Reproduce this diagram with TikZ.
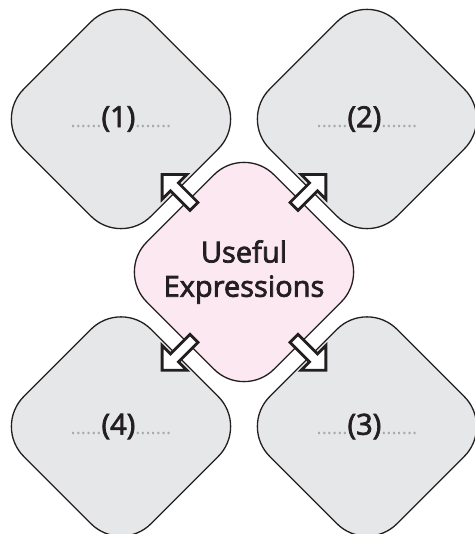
\documentclass[tikz,border=0pt]{standalone}
\usepackage{fontspec}
\setmainfont{Open Sans}
\newfontfamily\labelfont{Open Sans}[FakeBold=2.5]
\usepackage{tikz}
\usetikzlibrary{shapes.geometric,shapes.arrows}
\usetikzlibrary{calc,positioning}
\definecolor{boxgray}{HTML}{E6E7E8}
\definecolor{boxpink}{HTML}{FCE8F0}
\definecolor{inkcol}{HTML}{231F20}
\definecolor{dotgray}{HTML}{A7A9AC}
\newcommand{\blankdots}[1]{{\normalfont\fontsize{11}{11}\selectfont\color{dotgray}#1}}

\begin{document}
\begin{tikzpicture}[
		topicbox/.style={diamond, aspect=1, draw=inkcol, line width=0.75pt, rounded corners=0.85cm, minimum size=5.1cm, inner sep=0pt, align=center, text=inkcol, font=\labelfont\fontsize{16.5}{19.5}\selectfont},
		blockarrow/.style={single arrow, draw=inkcol, fill=white, line width=1.6pt, single arrow tip angle=90, single arrow head extend=0.06cm, minimum height=0.9cm, minimum width=0.7cm, inner sep=0pt}
	]
		\useasboundingbox (-4.88,-5.24) rectangle (4.62,5.44);
		\node[topicbox, fill=boxpink] (useful) at (0,0) {Useful\\Expressions};
		\foreach \n/\x/\y/\a in {1/-2.46/3.06/135, 2/2.46/3.06/45, 3/2.46/-3.09/-45, 4/-2.46/-3.09/-135}{
			\node[topicbox, fill=boxgray] (box\n) at (\x,\y) {\blankdots{......}(\n)\blankdots{.......}};
			\node[blockarrow, rotate=\a] (arrow\n) at ($(useful)!0.52!(box\n)$) {};
		}
	\end{tikzpicture}
\end{document}
